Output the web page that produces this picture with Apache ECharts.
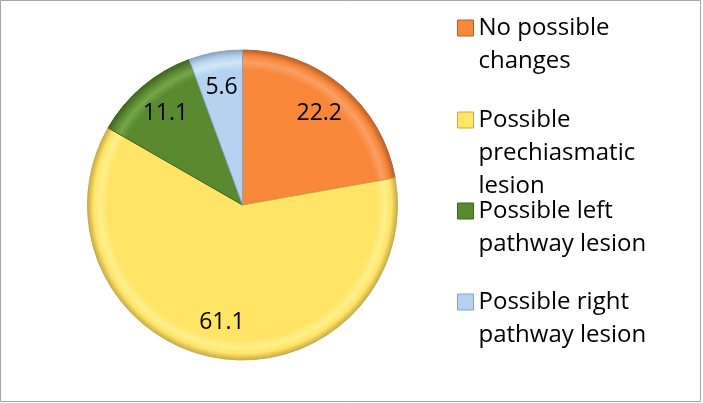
<!DOCTYPE html>
<html>
<head>
<meta charset="utf-8">
<script src="https://cdn.jsdelivr.net/npm/echarts@6/dist/echarts.min.js"></script>
<style>
  html, body { margin: 0; padding: 0; background: #fff; }
  #pieChart { width: 703px; height: 403px; }
</style>
</head>
<body>
<div id="pieChart"></div>
<script>
  // data
  var categories = ['No possible changes', 'Possible prechiasmatic lesion', 'Possible left pathway lesion', 'Possible right pathway lesion']
  var legendLines = [
    ['No possible', 'changes'],
    ['Possible', 'prechiasmatic', 'lesion'],
    ['Possible left', 'pathway lesion'],
    ['Possible right', 'pathway lesion']
  ]
  var values = [22.2, 61.1, 11.1, 5.6]

  var baseColors = ['#f8873a', '#ffe466', '#5a8a30', '#b5d3f0']
  var lightColors = ['#fba064', '#fff08c', '#75a64a', '#d2e6f8']
  var darkColors = ['#b8602a', '#c9ab48', '#3f6321', '#8aa3bd']

  var cx = 242.5
  var cy = 205
  var R = 155
  var legendTops = [-21.5, 37.5, 161.5, 252.5]

  var chart = echarts.init(document.getElementById('pieChart'))

  var pieData = values.map(function(v, i) {
    return {
      name: categories[i],
      value: v,
      itemStyle: {
        color: {
          type: 'radial', x: cx, y: cy, r: R, global: true,
          colorStops: [
            { offset: 0, color: baseColors[i] },
            { offset: 0.87, color: baseColors[i] },
            { offset: 0.92, color: lightColors[i] },
            { offset: 0.96, color: baseColors[i] },
            { offset: 1, color: darkColors[i] }
          ]
        },
        borderColor: darkColors[i],
        borderWidth: 1
      }
    }
  })

  // one legend per entry so the marker sits on the first text line
  var legends = categories.map(function(name, i) {
    var lines = legendLines[i]
    var pad = []
    for (var k = 1; k < lines.length; k++) pad.push('')
    return {
      orient: 'vertical',
      left: 457,
      top: legendTops[i],
      padding: 0,
      itemWidth: 16,
      itemHeight: 16,
      itemGap: 0,
      icon: 'rect',
      selectedMode: false,
      data: [{ name: name, itemStyle: { color: baseColors[i], borderColor: darkColors[i], borderWidth: 1 } }],
      formatter: function() {
        return pad.concat(lines).join('\n')
      },
      textStyle: {
        fontFamily: 'Open Sans',
        fontSize: 24,
        lineHeight: 33,
        color: '#000'
      }
    }
  })

  var options = {
    animation: false,
    backgroundColor: '#fff',
    legend: legends,
    graphic: [{
      type: 'rect',
      shape: { x: 0.5, y: 0.5, width: 700, height: 401 },
      style: { fill: 'none', stroke: '#a6a6a6', lineWidth: 1 },
      silent: true
    }],
    series: [
      {
        name: 'pie',
        type: 'pie',
        center: [cx, cy],
        radius: R,
        startAngle: 90,
        clockwise: true,
        label: { show: false },
        labelLine: { show: false },
        emphasis: { disabled: true },
        data: pieData
      },
      {
        // transparent ring only used to place the value labels
        name: 'labels',
        type: 'pie',
        center: [cx, cy],
        radius: [78, R],
        startAngle: 90,
        clockwise: true,
        silent: true,
        emphasis: { disabled: true },
        itemStyle: { color: 'rgba(0,0,0,0)' },
        labelLine: { show: false },
        label: {
          show: true,
          position: 'inside',
          formatter: function(p) { return p.value.toFixed(1) },
          fontFamily: 'Open Sans',
          fontSize: 23,
          color: '#000'
        },
        data: values.map(function(v, i) { return { name: categories[i], value: v } })
      }
    ]
  }

  chart.setOption(options)
</script>
</body>
</html>
